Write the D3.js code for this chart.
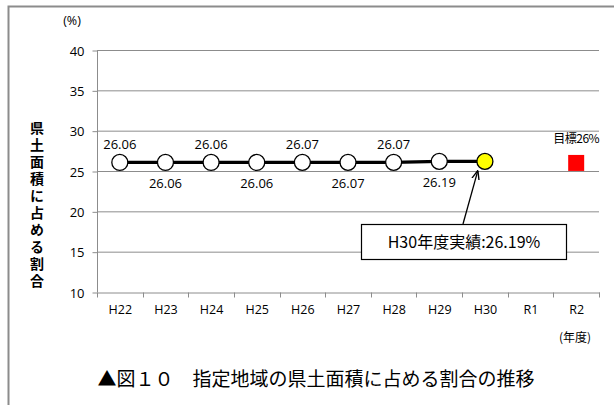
<!DOCTYPE html>
<html><head><meta charset="utf-8">
<script src="https://cdn.jsdelivr.net/npm/d3@7"></script>
<style>
body{margin:0;background:#fff;}
svg text{font-family:"Open Sans","Noto Sans CJK JP",sans-serif;fill:#000;}
.jp{font-family:"Noto Sans CJK JP",sans-serif;}
</style></head>
<body><svg id="c" width="614" height="405"></svg>
<script>
const categories = ["H22","H23","H24","H25","H26","H27","H28","H29","H30","R1","R2"];
const actualYears = ["H22","H23","H24","H25","H26","H27","H28","H29","H30"];
const actualValues = [26.06,26.06,26.06,26.06,26.07,26.07,26.07,26.19,26.19];
const labelAbove = [true,false,true,false,true,false,true,false,null];
const targetYear = "R2";
const targetValue = 26;
const yTicks = [10,15,20,25,30,35,40];
const yTitle = "県土面積に占める割合";
const caption = "▲図１０　指定地域の県土面積に占める割合の推移";
const calloutText = "H30年度実績:26.19%";

const svg = d3.select("#c");
// outer frame
svg.append("rect").attr("x",8.5).attr("y",6.5).attr("width",640).attr("height",420)
  .attr("fill","none").attr("stroke","#8c8c8c").attr("stroke-width",2);

const x = d3.scaleBand().domain(categories).range([97,599]);
const y = d3.scaleLinear().domain([10,40]).range([292,50]);
const cx = d => x(d) + x.bandwidth()/2;

// gridlines
svg.append("g").selectAll("line").data(yTicks.filter(t=>t>10)).join("line")
  .attr("x1",97).attr("x2",599).attr("y1",d=>y(d)+0.5).attr("y2",d=>y(d)+0.5)
  .attr("stroke","#8c8c8c").attr("stroke-width",1);

// y axis
const ya = svg.append("g").attr("transform","translate(97.5,0.5)")
  .call(d3.axisLeft(y).tickValues(yTicks).tickSize(5).tickPadding(8));
ya.select(".domain").attr("stroke","#8c8c8c").attr("d",`M0,${y(40)}V${y(10)}`);
ya.selectAll(".tick line").attr("stroke","#8c8c8c");
ya.selectAll(".tick text").attr("font-size",13).style("font-family","'Open Sans',sans-serif").attr("dy","0.35em");

// x axis
const xa = svg.append("g").attr("transform",`translate(0.5,${y(10)+0.5})`)
  .call(d3.axisBottom(x).tickSize(0).tickPadding(13));
xa.select(".domain").attr("stroke","#8c8c8c");
xa.selectAll(".tick text").attr("font-size",12.5);
xa.append("g").selectAll("line").data(categories.concat(["_end"])).join("line")
  .attr("x1",(d,i)=>Math.round(97+i*x.step())).attr("x2",(d,i)=>Math.round(97+i*x.step()))
  .attr("y1",0).attr("y2",5).attr("stroke","#8c8c8c");

// unit labels
svg.append("text").attr("x",72).attr("y",25).attr("text-anchor","middle").attr("font-size",12.5).text("(%)");
svg.append("text").attr("class","jp").attr("x",575).attr("y",342).attr("text-anchor","middle").attr("font-size",12).text("(年度)");

// y title, set vertically
svg.append("text").attr("class","jp").attr("x",37).attr("y",121)
  .style("writing-mode","vertical-rl").attr("letter-spacing",3)
  .attr("font-size",14).attr("font-weight","bold").text(yTitle);

// line
const line = d3.line().x((d,i)=>cx(actualYears[i])).y(d=>y(d));
svg.append("path").datum(actualValues).attr("d",line)
  .attr("fill","none").attr("stroke","#000").attr("stroke-width",3.2);

// markers
svg.append("g").selectAll("circle").data(actualValues).join("circle")
  .attr("cx",(d,i)=>cx(actualYears[i])).attr("cy",d=>y(d)).attr("r",8)
  .attr("fill",(d,i)=>i===actualValues.length-1?"#ffff00":"#fff")
  .attr("stroke","#000").attr("stroke-width",1.3);

// data labels
svg.append("g").selectAll("text").data(actualValues.map((v,i)=>({v,i}))
  .filter(d=>labelAbove[d.i]!==null)).join("text")
  .attr("x",d=>cx(actualYears[d.i])).attr("y",d=>labelAbove[d.i]?y(d.v)-13:y(d.v)+26)
  .attr("text-anchor","middle").attr("font-size",13).text(d=>d.v.toFixed(2));

// target
svg.append("rect").attr("x",cx(targetYear)-8).attr("y",y(targetValue)-8).attr("width",16).attr("height",16).attr("fill","#ff0000");
svg.append("text").attr("class","jp").attr("x",cx(targetYear)).attr("y",y(targetValue)-20)
  .attr("text-anchor","middle").attr("font-size",12).attr("letter-spacing","-0.5").text("目標"+targetValue+"%");

// callout
const last = actualValues.length-1;
const px = cx(actualYears[last]), py = y(actualValues[last]);
svg.append("defs").append("marker").attr("id","ah").attr("viewBox","0 0 10 10")
  .attr("refX",10).attr("refY",5).attr("markerWidth",7).attr("markerHeight",7).attr("orient","auto")
  .append("path").attr("d","M0,1L10,5L0,9").attr("fill","none").attr("stroke","#000").attr("stroke-width",1.5);
svg.append("line").attr("x1",463).attr("y1",224).attr("x2",px-7).attr("y2",py+9)
  .attr("stroke","#000").attr("stroke-width",1.3).attr("marker-end","url(#ah)");
svg.append("rect").attr("x",361.5).attr("y",224.5).attr("width",205).attr("height",35)
  .attr("fill","#fff").attr("stroke","#000").attr("stroke-width",1.2);
svg.append("text").attr("class","jp").attr("x",464).attr("y",248).attr("text-anchor","middle").attr("font-size",16).text(calloutText);

// caption
svg.append("text").attr("class","jp").attr("x",316).attr("y",386).attr("text-anchor","middle").attr("font-size",19).text(caption);
</script></body></html>
